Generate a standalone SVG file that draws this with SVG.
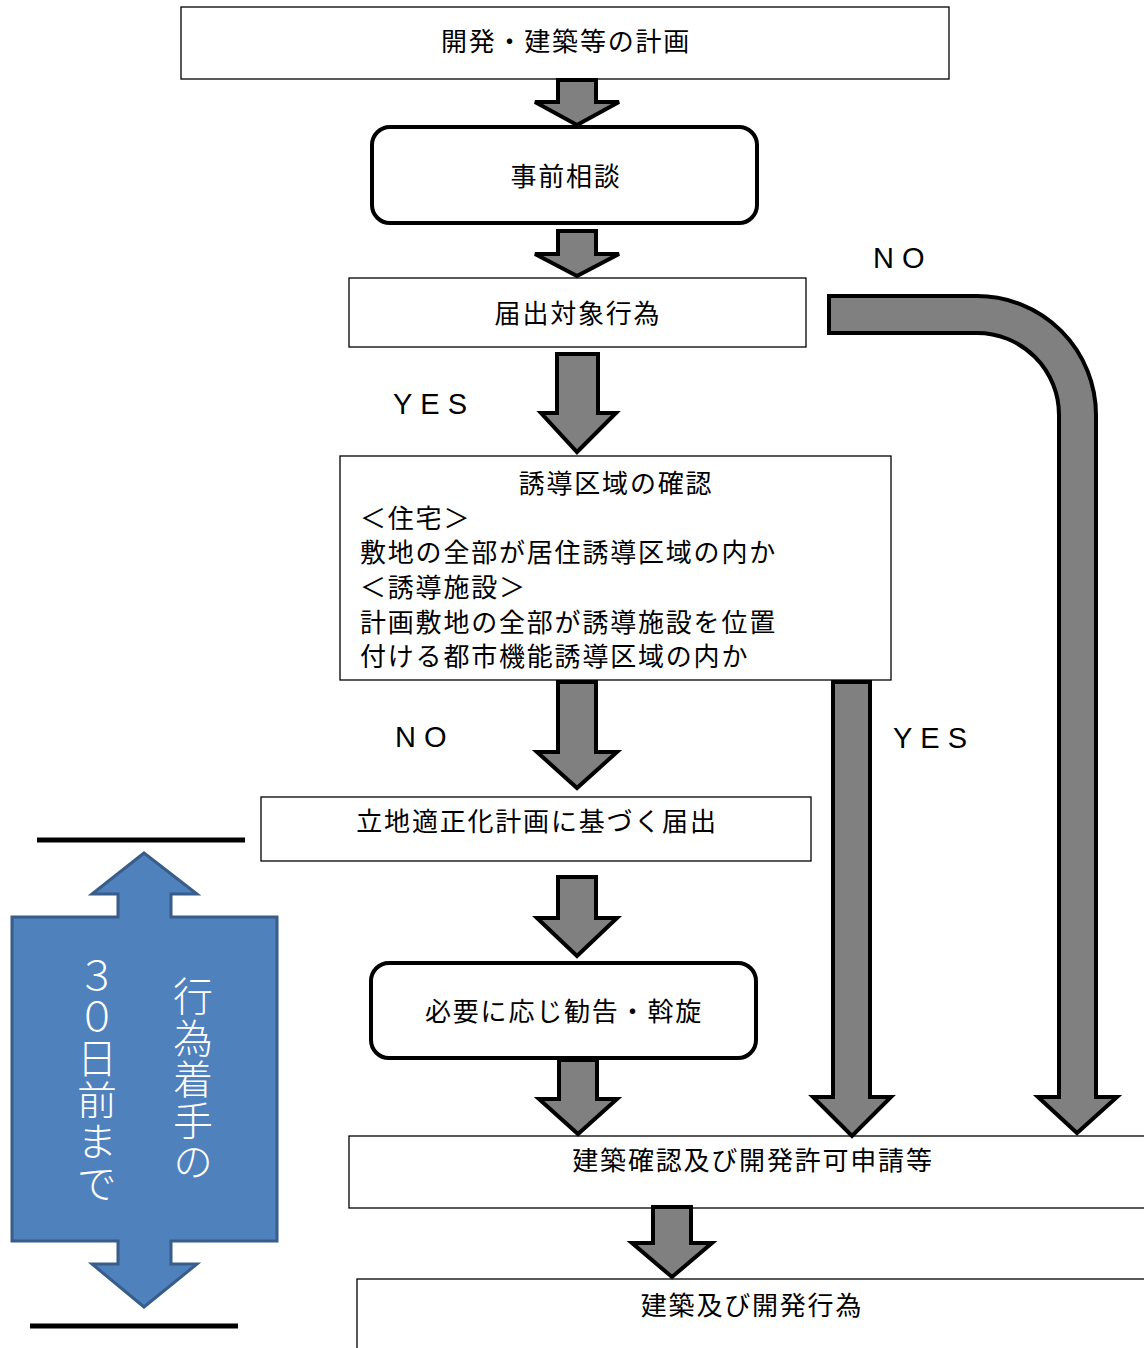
<svg xmlns="http://www.w3.org/2000/svg" width="1144" height="1348" viewBox="0 0 1144 1348">
<style>
.box{fill:#fff;stroke:#000;stroke-width:1.3}
.rbox{fill:#fff;stroke:#000;stroke-width:4}
.arr{fill:#808080;stroke:#000;stroke-width:4;stroke-linejoin:miter}
.t{font-family:"Noto Sans CJK JP","Noto Sans",sans-serif;font-size:26px;letter-spacing:1.8px;fill:#000;dominant-baseline:central}
.c{text-anchor:middle}
.lbl{font-family:"Liberation Sans",Arial,sans-serif;font-size:29px;letter-spacing:8px;fill:#000}
.v{font-family:"Noto Sans CJK JP",sans-serif;font-size:40px;letter-spacing:1.5px;fill:#fff;writing-mode:vertical-rl;font-weight:300}
.bar{stroke:#000;stroke-width:5}
</style>
<rect width="1144" height="1348" fill="#fff"/>

<g id="n1"><rect class="box" x="181" y="7" width="768" height="72"/><text class="t c" x="566" y="39">開発・建築等の計画</text></g>
<g id="n2"><rect class="rbox" x="372" y="127" width="385" height="96" rx="18"/><text class="t c" x="566" y="174">事前相談</text></g>
<g id="n3"><rect class="box" x="349" y="278" width="457" height="69"/><text class="t c" x="578" y="311">届出対象行為</text></g>
<g id="n4"><rect class="box" x="340" y="456" width="551" height="224"/>
<text class="t c" x="616" y="481">誘導区域の確認</text>
<text class="t" x="360" y="516">＜住宅＞</text>
<text class="t" x="360" y="550">敷地の全部が居住誘導区域の内か</text>
<text class="t" x="360" y="585">＜誘導施設＞</text>
<text class="t" x="360" y="620">計画敷地の全部が誘導施設を位置</text>
<text class="t" x="360" y="654">付ける都市機能誘導区域の内か</text>
</g>
<g id="n5"><rect class="box" x="261" y="797" width="550" height="64"/><text class="t c" x="537" y="819">立地適正化計画に基づく届出</text></g>
<g id="n6"><rect class="rbox" x="371" y="963" width="385" height="95" rx="18"/><text class="t c" x="564" y="1009">必要に応じ勧告・斡旋</text></g>
<g id="n7"><rect class="box" x="349" y="1136" width="800" height="72"/><text class="t c" x="753" y="1158">建築確認及び開発許可申請等</text></g>
<g id="n8"><rect class="box" x="357" y="1279" width="800" height="80"/><text class="t c" x="752" y="1303">建築及び開発行為</text></g>

<g id="connectors">
<path class="arr" d="M558,80 L596,80 L596,102 L619,102 L577,125 L535,102 L558,102 Z"/>
<path class="arr" d="M558,231 L596,231 L596,254 L619,254 L577,276 L535,254 L558,254 Z"/>
<path class="arr" d="M557,354 L598,354 L598,413 L616,413 L577,452 L541,413 L557,413 Z"/>
<path class="arr" d="M558,682 L596,682 L596,752 L617,752 L577,788 L537,752 L558,752 Z"/>
<path class="arr" d="M558,877 L596,877 L596,918 L617,918 L577,956 L537,918 L558,918 Z"/>
<path class="arr" d="M559,1060 L597,1060 L597,1099 L617,1099 L578,1134 L539,1099 L559,1099 Z"/>
<path class="arr" d="M653,1207 L691,1207 L691,1243 L712,1243 L672,1277 L632,1243 L653,1243 Z"/>
<path class="arr" d="M833,682 L870,682 L870,1097 L891,1097 L852,1136 L813,1097 L833,1097 Z"/>
<path class="arr" d="M829,296 L977,296 A119,119 0 0 1 1096,415 L1096,1097 L1117,1097 L1077,1133 L1038,1097 L1059,1097 L1059,415 A82,82 0 0 0 977,333 L829,333 Z"/>
<text class="lbl" x="873" y="268">NO</text>
<text class="lbl" x="393" y="414">YES</text>
<text class="lbl" x="395" y="747">NO</text>
<text class="lbl" x="893" y="748">YES</text>
</g>

<g id="period">
<line class="bar" x1="37" y1="840" x2="245" y2="840"/>
<line class="bar" x1="30" y1="1326" x2="238" y2="1326"/>
<path d="M144,853 L197,894 L171,894 L171,917 L277,917 L277,1241 L171,1241 L171,1264 L197,1264 L144,1307 L92,1264 L118,1264 L118,1241 L12,1241 L12,917 L118,917 L118,894 L92,894 Z" fill="#4F81BD" stroke="#385D8A" stroke-width="3"/>
<text class="v" x="193" y="976">行為着手の</text>
<text class="v" x="97" y="955">３０日前まで</text>
</g>
</svg>
